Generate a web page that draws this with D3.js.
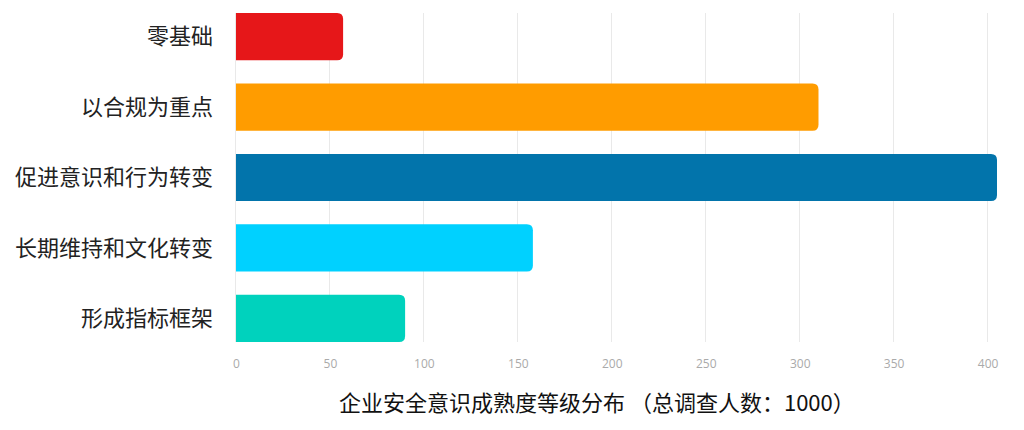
<html>
<head>
<meta charset="utf-8">
<script src="https://d3js.org/d3.v7.min.js"></script>
<style>
  body { margin: 0; background: #ffffff; }
  svg { display: block; }
</style>
</head>
<body>
<script>
// DATA - categories, values, colours, ticks
var categories = ["零基础", "以合规为重点", "促进意识和行为转变", "长期维持和文化转变", "形成指标框架"];
var values = [57, 310, 405, 158, 90];
var barColors = ["#e61719", "#ff9c00", "#0274ab", "#00d1ff", "#00d2bd"];
var tickValues = [0, 50, 100, 150, 200, 250, 300, 350, 400];
var titleText = "企业安全意识成熟度等级分布 （总调查人数：1000）";

var width = 1024, height = 430;
var plotLeft = 236, plotRight = 997, plotTop = 13, plotBottom = 342;

var svg = d3.select("body").append("svg")
  .attr("width", width)
  .attr("height", height);

var x = d3.scaleLinear()
  .domain([0, d3.max(values)])
  .range([plotLeft, plotRight]);

var y = d3.scaleBand()
  .domain(categories)
  .range([plotTop, plotBottom])
  .paddingInner(0.33)
  .paddingOuter(0);

// gridlines
svg.append("g").selectAll("line")
  .data(tickValues)
  .enter().append("line")
  .attr("x1", function(d){ return Math.round(x(d)) - 0.5; })
  .attr("x2", function(d){ return Math.round(x(d)) - 0.5; })
  .attr("y1", plotTop)
  .attr("y2", plotBottom)
  .style("stroke", "#e9e9e9")
  .style("stroke-width", 1);

// bars, rounded on the right end only
var r = 6;
function barPath(d, i) {
  var x0 = x(0), x1 = x(d), y0 = y(categories[i]), h = y.bandwidth();
  return "M" + x0 + "," + y0 +
    "H" + (x1 - r) +
    "Q" + x1 + "," + y0 + " " + x1 + "," + (y0 + r) +
    "V" + (y0 + h - r) +
    "Q" + x1 + "," + (y0 + h) + " " + (x1 - r) + "," + (y0 + h) +
    "H" + x0 + "Z";
}
svg.append("g").selectAll("path")
  .data(values)
  .enter().append("path")
  .attr("d", barPath)
  .style("fill", function(d, i){ return barColors[i]; });

// category labels
svg.append("g").selectAll("text")
  .data(categories)
  .enter().append("text")
  .attr("x", 213)
  .attr("y", function(d){ return y(d) + y.bandwidth() / 2; })
  .attr("dy", "0.35em")
  .attr("text-anchor", "end")
  .style("font-family", "'Noto Sans CJK SC', 'Noto Sans', sans-serif")
  .style("font-size", "22px")
  .style("fill", "#222")
  .text(function(d){ return d; });

// x axis tick labels
var xAxis = d3.axisBottom(x).tickValues(tickValues).tickSize(0).tickPadding(0);
var gx = svg.append("g")
  .attr("transform", "translate(0," + 359 + ")")
  .call(xAxis);
gx.select(".domain").remove();
gx.selectAll("text")
  .style("font-family", "'Open Sans', 'Noto Sans', sans-serif")
  .style("font-size", "12px")
  .style("fill", "#aaaaaa");

// title
svg.append("text")
  .attr("x", 339)
  .attr("y", 403)
  .attr("dy", "0.35em")
  .style("font-family", "'Noto Sans CJK SC', 'Noto Sans', sans-serif")
  .style("font-size", "22px")
  .style("fill", "#111")
  .text(titleText);
</script>
</body>
</html>
